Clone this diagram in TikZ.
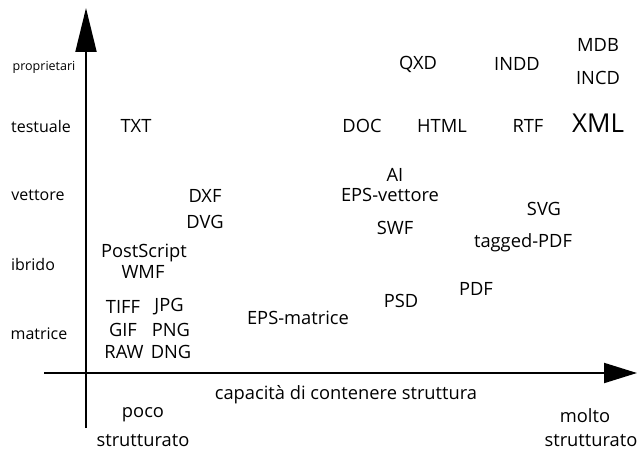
\documentclass[tikz,border=0pt]{standalone}
\usepackage{fontspec}
\setmainfont{Open Sans}
\usetikzlibrary{arrows.meta}
\tikzset{
  fmt/.style={inner sep=0pt, anchor=center, font=\fontsize{18.3}{20}\selectfont},
  cat/.style={inner sep=0pt, anchor=center, font=\fontsize{16}{18}\selectfont},
  axis/.style={line width=2pt, -{Triangle[length=44pt, width=21pt]}},
}
\begin{document}
\begin{tikzpicture}[x=1pt, y=-1pt]
\useasboundingbox (0,0) rectangle (637,452);
% axes
\coordinate (yb) at (86,428);
\coordinate (yt) at (86,8);
\coordinate (xl) at (44,373);
\coordinate (xr) at (637,373);
\draw[axis] (yb) -- (yt);
\draw[line width=2pt, -{Triangle[length=33pt, width=20pt]}] (xl) -- (xr);
% categories on the vertical axis
\node[cat, font=\fontsize{12.5}{14}\selectfont] (proprietari) at (44,67) {proprietari};
\node[cat] (testuale) at (41,126) {testuale};
\node[cat] (vettore) at (38,195) {vettore};
\node[cat] (ibrido) at (33,264) {ibrido};
\node[cat] (matrice) at (39,334) {matrice};
% file formats
\node[fmt] (txt) at (136,126) {TXT};
\node[fmt] (dxf) at (205,196) {DXF};
\node[fmt] (dvg) at (205,222) {DVG};
\node[fmt] (ps) at (144,253) {PostScript};
\node[fmt] (wmf) at (143,272) {WMF};
\node[fmt] (tiff) at (123,307) {TIFF};
\node[fmt] (jpg) at (169,307) {JPG};
\node[fmt] (gif) at (123,330) {GIF};
\node[fmt] (png) at (171,330) {PNG};
\node[fmt] (raw) at (124,352) {RAW};
\node[fmt] (dng) at (171,352) {DNG};
\node[fmt] (epsm) at (298,318) {EPS-matrice};
\node[fmt] (qxd) at (418,64) {QXD};
\node[fmt] (indd) at (517,64) {INDD};
\node[fmt] (mdb) at (598,45) {MDB};
\node[fmt] (incd) at (598,78) {INCD};
\node[fmt, font=\fontsize{26}{28}\selectfont] (xml) at (598,123) {XML};
\node[fmt] (doc) at (362,126) {DOC};
\node[fmt] (html) at (442,126) {HTML};
\node[fmt] (rtf) at (528,126) {RTF};
\node[fmt] (ai) at (395,175) {AI};
\node[fmt] (epsv) at (390,195) {EPS-vettore};
\node[fmt] (svg) at (544,209) {SVG};
\node[fmt] (swf) at (395,228) {SWF};
\node[fmt] (tpdf) at (523,243) {tagged-PDF};
\node[fmt] (pdf) at (476,289) {PDF};
\node[fmt] (psd) at (401,301) {PSD};
% horizontal axis labels
\node[fmt] (cap) at (346,395) {capacità di contenere struttura};
\node[fmt] (poco) at (143,415) {poco};
\node[fmt] (strl) at (143,441) {strutturato};
\node[fmt] (molto) at (585,416) {molto};
\node[fmt] (strr) at (591,441) {strutturato};
\end{tikzpicture}
\end{document}
